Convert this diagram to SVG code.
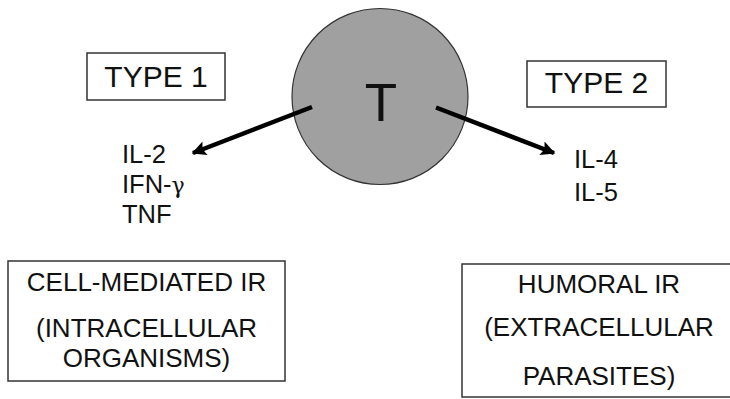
<svg xmlns="http://www.w3.org/2000/svg" width="730" height="399" viewBox="0 0 730 399">
  <style>
    text { font-family: "Liberation Sans", Arial, sans-serif; fill: #111; }
    .box { fill: #fff; stroke: #333; stroke-width: 1.5; }
    .type { font-size: 30px; text-anchor: middle; }
    .cyto { font-size: 25.5px; }
    .greek { font-family: "DejaVu Serif", "Liberation Serif", serif; font-size: 22px; }
    .ir { font-size: 26px; text-anchor: middle; }
    .arrow { stroke: #000; stroke-width: 4.5; fill: none; marker-end: url(#head); }
  </style>
  <defs>
    <marker id="head" viewBox="0 0 10 10" refX="9" refY="5" markerWidth="4" markerHeight="3.2" orient="auto" markerUnits="strokeWidth">
      <path d="M0,0 L10,5 L0,10 L2,5 Z" fill="#000"/>
    </marker>
  </defs>

  <rect width="730" height="399" fill="#fff"/>

  <!-- T cell -->
  <g id="t-cell">
    <circle cx="380" cy="96.5" r="88" fill="#a0a0a0" stroke="#333" stroke-width="1.2"/>
    <text x="381" y="121" font-size="53" text-anchor="middle">T</text>
  </g>

  <!-- Type 1 label -->
  <g id="type1">
    <rect class="box" x="87" y="53" width="138" height="47"/>
    <text class="type" x="156" y="87">TYPE 1</text>
  </g>

  <!-- Type 2 label -->
  <g id="type2">
    <rect class="box" x="527" y="61" width="139" height="46"/>
    <text class="type" x="596.5" y="93">TYPE 2</text>
  </g>

  <!-- Type 1 cytokines -->
  <g id="cytokines1">
    <text class="cyto" x="122" y="163">IL-2</text>
    <text class="cyto" x="122" y="193">IFN-<tspan class="greek">γ</tspan></text>
    <text class="cyto" x="122" y="223">TNF</text>
  </g>

  <!-- Type 2 cytokines -->
  <g id="cytokines2">
    <text class="cyto" x="574" y="168">IL-4</text>
    <text class="cyto" x="574" y="201">IL-5</text>
  </g>

  <!-- Cell-mediated response -->
  <g id="cell-mediated">
    <rect class="box" x="8" y="261" width="277" height="120"/>
    <text class="ir" x="146.5" y="291">CELL-MEDIATED IR</text>
    <text class="ir" x="146.5" y="337">(INTRACELLULAR</text>
    <text class="ir" x="146.5" y="367">ORGANISMS)</text>
  </g>

  <!-- Humoral response -->
  <g id="humoral">
    <rect class="box" x="462" y="264" width="280" height="133"/>
    <text class="ir" x="599" y="293">HUMORAL IR</text>
    <text class="ir" x="599" y="336">(EXTRACELLULAR</text>
    <text class="ir" x="599" y="385">PARASITES)</text>
  </g>

  <!-- Connectors -->
  <g id="connectors">
    <line class="arrow" x1="312" y1="107" x2="193" y2="153"/>
    <line class="arrow" x1="436" y1="107.5" x2="554" y2="153"/>
  </g>
</svg>
